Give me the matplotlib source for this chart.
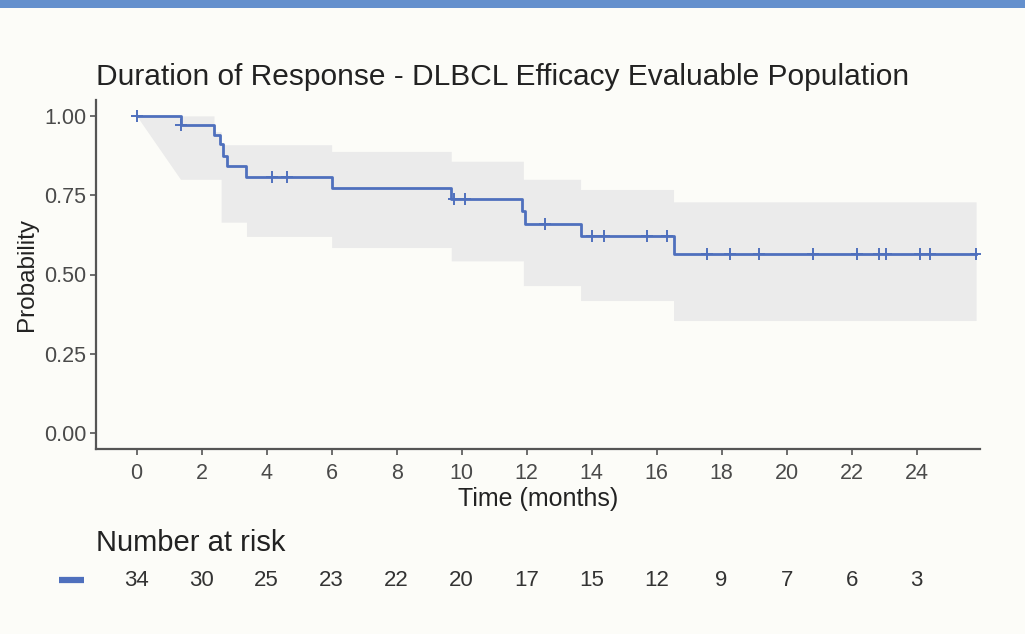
import numpy as np
import matplotlib.pyplot as plt
from matplotlib.patches import Rectangle

# ---------------------------------------------------------------
# data
# ---------------------------------------------------------------
km_time = [0, 1.35, 2.38, 2.55, 2.65, 2.78, 3.38, 6.0, 9.68, 11.86, 11.95, 13.66, 16.52]
km_surv = [1.0, 0.970, 0.940, 0.910, 0.875, 0.843, 0.808, 0.773, 0.737, 0.700, 0.660, 0.620, 0.564]
end_time = 25.83

cens_time = [0, 1.38, 4.18, 4.62, 9.76, 10.11, 12.56, 14.02, 14.39, 15.70, 16.32,
             17.55, 18.27, 19.15, 20.81, 22.18, 22.85, 23.06, 24.10, 24.41, 25.83]

band_time = [0, 1.35, 2.38, 2.6, 3.38, 6.0, 9.68, 11.9, 13.66, 16.52, 25.83]
band_upper = [1.0, 1.0, 0.95, 0.909, 0.909, 0.888, 0.857, 0.800, 0.768, 0.729]
band_lower = [1.0, 0.80, 0.80, 0.665, 0.620, 0.585, 0.543, 0.465, 0.418, 0.355]

risk_time = [0, 2, 4, 6, 8, 10, 12, 14, 16, 18, 20, 22, 24]
risk_n = [34, 30, 25, 23, 22, 20, 17, 15, 12, 9, 7, 6, 3]

# ---------------------------------------------------------------
line_color = '#4f70bd'
band_color = '#ebebeb'
bg_color = '#fcfcf8'
axis_color = '#555555'
text_color = '#222222'
tick_text_color = '#4a4a4a'

plt.rcParams['font.family'] = ['Liberation Sans', 'DejaVu Sans']

fig = plt.figure(figsize=(10.25, 6.34), dpi=100)
fig.patch.set_facecolor(bg_color)

# blue strip across the top
fig.patches.append(Rectangle((0, 1 - 8 / 634), 1, 8 / 634, transform=fig.transFigure,
                             facecolor='#6490cd', edgecolor='none'))

ax = fig.add_axes([96 / 1025, 1 - 449 / 634, (980 - 96) / 1025, (449 - 100) / 634])
ax.set_facecolor(bg_color)

# confidence band (first interval linear, afterwards stepped)
xs = [band_time[0]]
lo = [band_lower[0]]
up = [band_upper[0]]
for i in range(1, len(band_time) - 1):
    xs += [band_time[i], band_time[i + 1]]
    lo += [band_lower[i], band_lower[i]]
    up += [band_upper[i], band_upper[i]]
ax.fill_between(xs, lo, up, color=band_color, linewidth=0, zorder=1)

# KM curve
ax.step(km_time + [end_time], km_surv + [km_surv[-1]], where='post',
        color=line_color, linewidth=2.0, zorder=3)

# censor marks
idx = np.searchsorted(km_time, cens_time, side='right') - 1
cens_surv = np.array(km_surv)[idx]
ax.plot(cens_time, cens_surv, linestyle='none', marker='+', markersize=9,
        markeredgewidth=1.4, color=line_color, zorder=4)

ax.set_xlim(-1.25, 25.95)
ax.set_ylim(-0.05, 1.05)
ax.set_xticks(risk_time)
ax.set_yticks([0, 0.25, 0.5, 0.75, 1.0])
ax.set_yticklabels(['0.00', '0.25', '0.50', '0.75', '1.00'])

for side in ['top', 'right']:
    ax.spines[side].set_visible(False)
for side in ['left', 'bottom']:
    ax.spines[side].set_color(axis_color)
    ax.spines[side].set_linewidth(1.6)
ax.tick_params(axis='both', colors=axis_color, labelcolor=tick_text_color,
               labelsize=15.5, length=4, width=1.2, pad=3)
ax.tick_params(axis='x', pad=6)

ax.set_xlabel('Time (months)', fontsize=18, color=text_color, labelpad=2)
ax.set_ylabel('Probability', fontsize=17.5, color=text_color, labelpad=4)
ax.set_title('Duration of Response - DLBCL Efficacy Evaluable Population',
             fontsize=21.5, color=text_color, loc='left', x=0.0, pad=11)

# number at risk table
ax2 = fig.add_axes([96 / 1025, 1 - 600 / 634, (980 - 96) / 1025, 40 / 634])
ax2.set_xlim(ax.get_xlim())
ax2.set_ylim(0, 1)
ax2.axis('off')
for t, n in zip(risk_time, risk_n):
    ax2.text(t, 0.5, str(n), ha='center', va='center', fontsize=16, color='#333333')
ax2.plot([-2.03], [0.5], marker='_', markersize=18, markeredgewidth=4.5,
         color=line_color, clip_on=False)
fig.text(96 / 1025, 1 - 543 / 634, 'Number at risk', ha='left', va='center',
         fontsize=21, color=text_color)

fig.savefig('out.png', dpi=100, facecolor=fig.get_facecolor())
